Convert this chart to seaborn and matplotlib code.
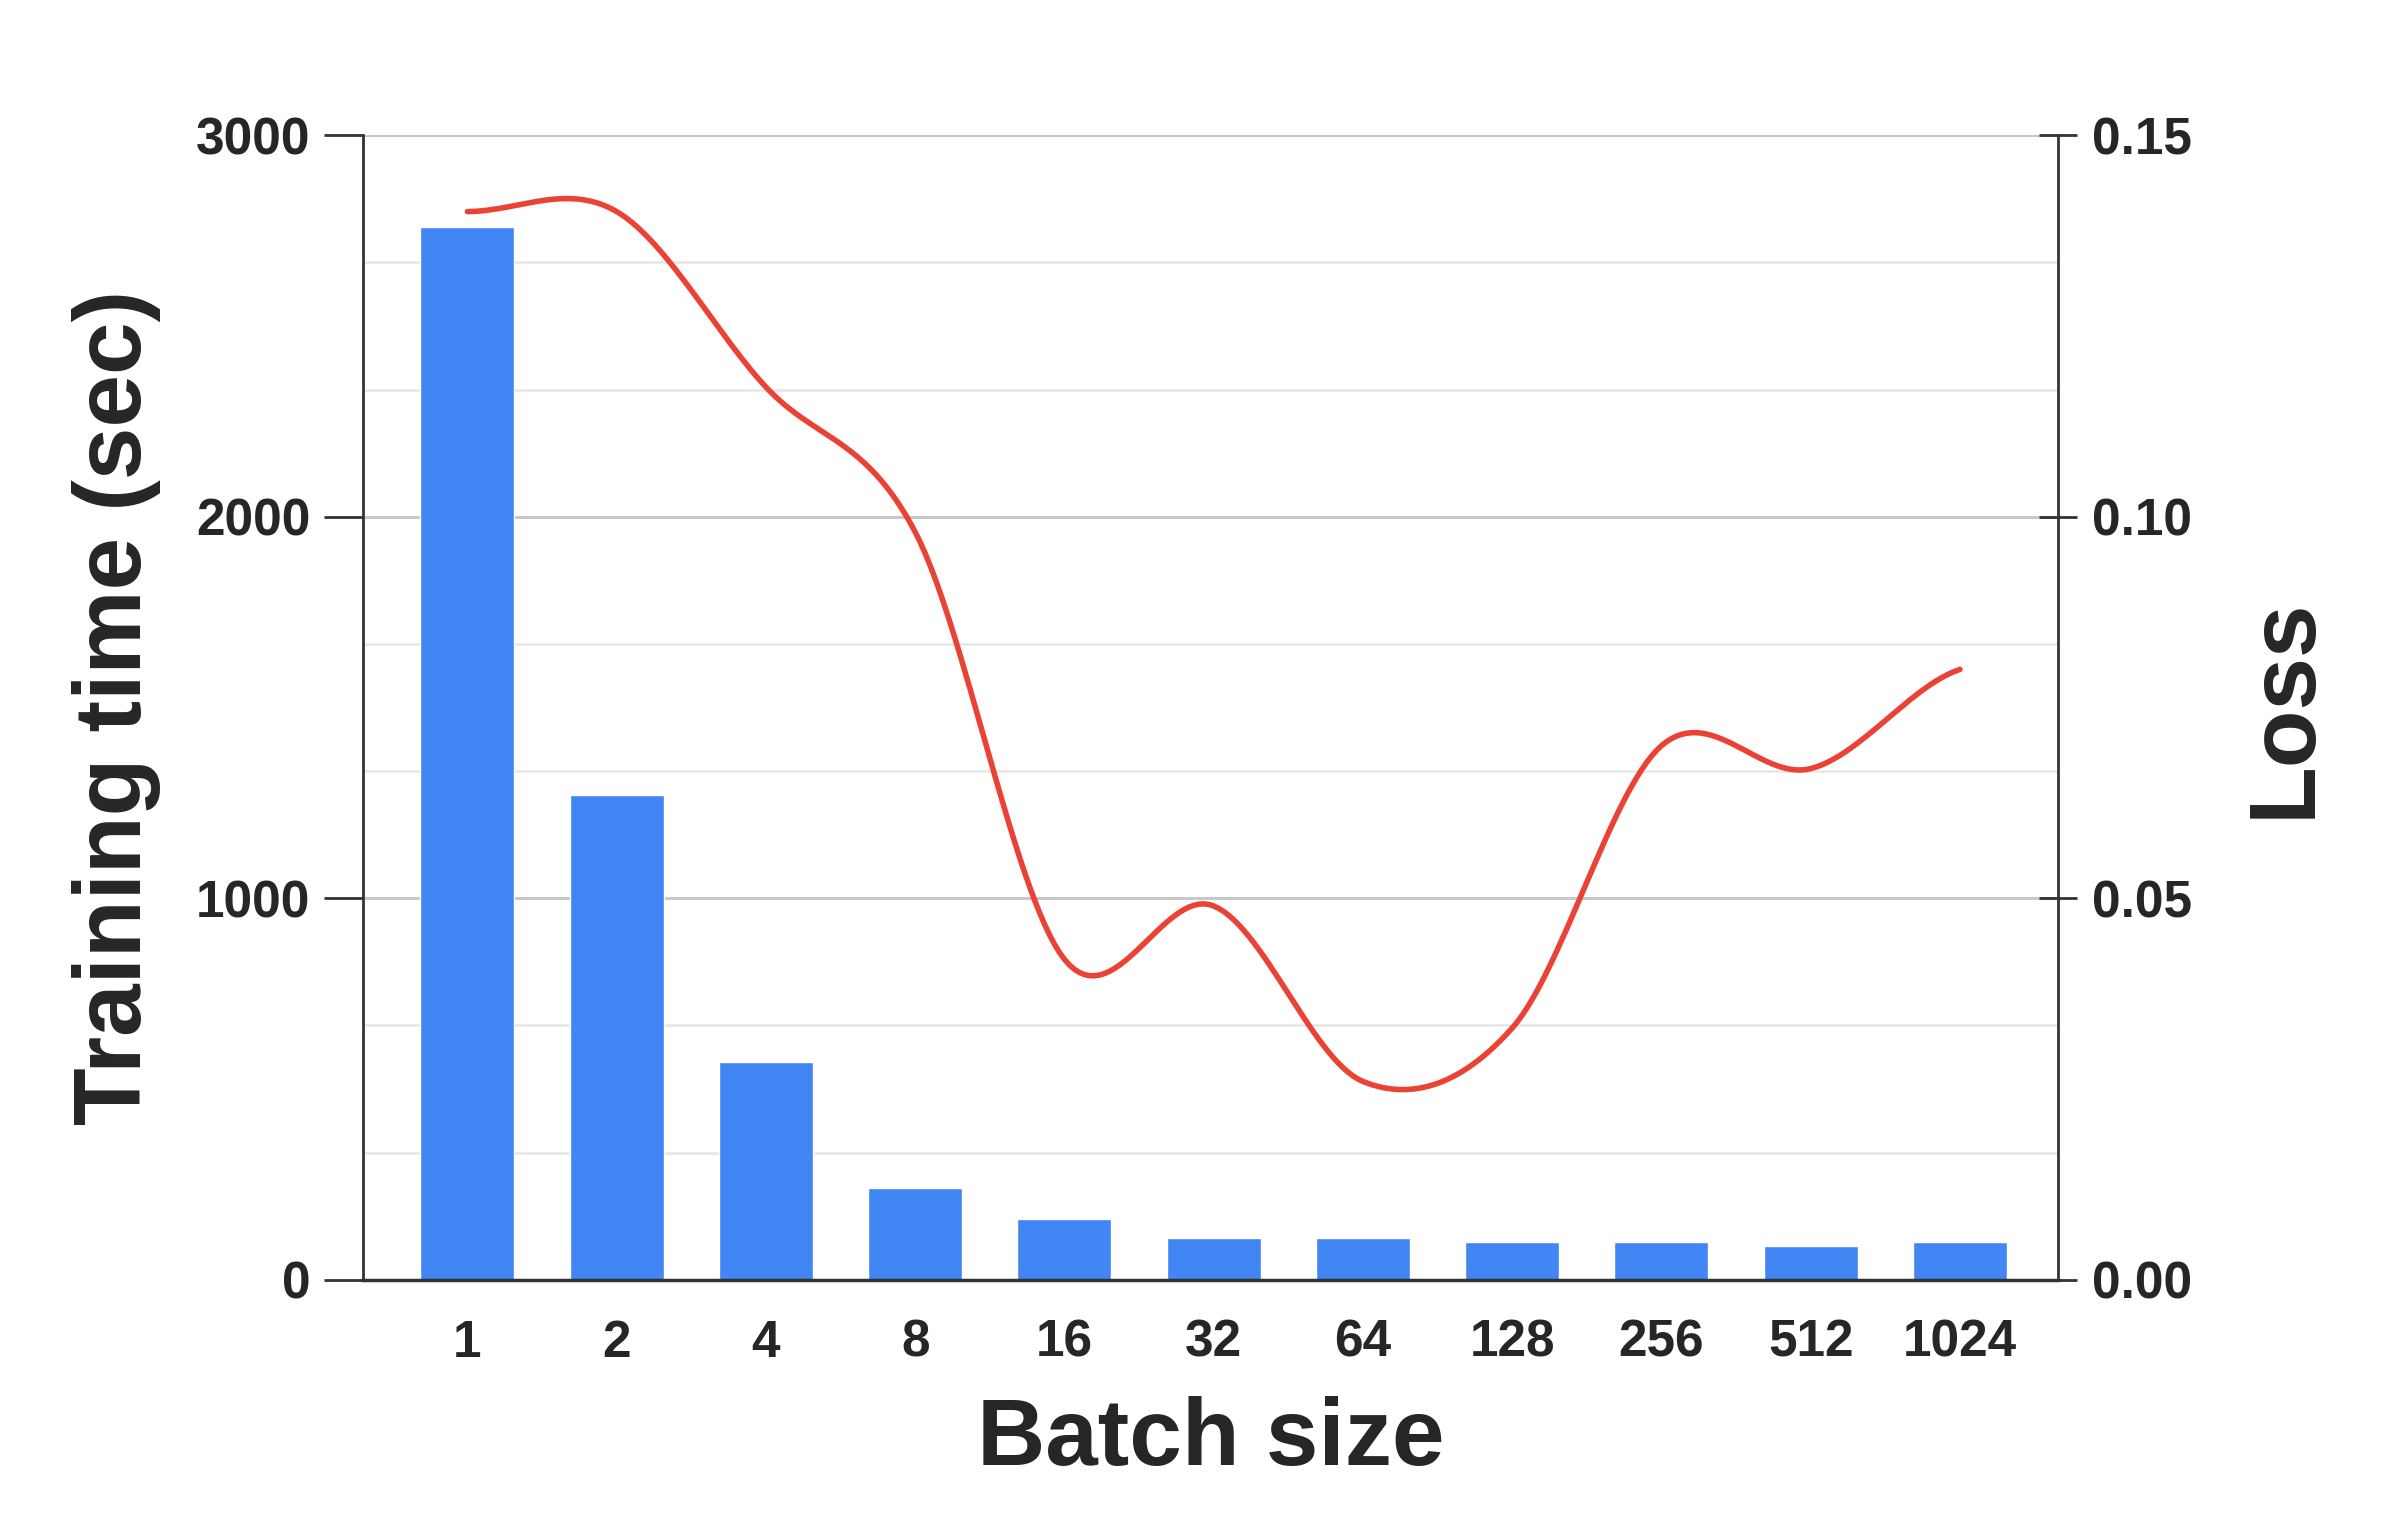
import numpy as np
import pandas as pd
import matplotlib
matplotlib.use("Agg")
import matplotlib.pyplot as plt
import seaborn as sns

batch_sizes = ["1", "2", "4", "8", "16", "32", "64", "128", "256", "512", "1024"]
train_time = [2760, 1270, 570, 240, 160, 110, 110, 100, 100, 90, 100]
loss = [0.140, 0.140, 0.117, 0.098, 0.042, 0.049, 0.026, 0.033, 0.070, 0.067, 0.080]


def smooth(xs, ys, n=30):
    # catmull-rom spline, only used to draw the smoothed line
    xs = np.asarray(xs, float)
    ys = np.asarray(ys, float)
    px = np.concatenate([[2 * xs[0] - xs[1]], xs, [2 * xs[-1] - xs[-2]]])
    py = np.concatenate([[ys[0]], ys, [ys[-1]]])
    ox, oy = [], []
    for i in range(1, len(px) - 2):
        t = np.linspace(0, 1, n, endpoint=False)
        for p, out in ((px, ox), (py, oy)):
            p0, p1, p2, p3 = p[i - 1], p[i], p[i + 1], p[i + 2]
            out.extend(0.5 * (2 * p1 + (-p0 + p2) * t
                              + (2 * p0 - 5 * p1 + 4 * p2 - p3) * t ** 2
                              + (-p0 + 3 * p1 - 3 * p2 + p3) * t ** 3))
    ox.append(xs[-1])
    oy.append(ys[-1])
    return np.array(ox), np.array(oy)


sns.set_style("white")
plt.rcParams['font.family'] = ['Liberation Sans', 'DejaVu Sans']
plt.rcParams['font.weight'] = 'bold'

df = pd.DataFrame({"batch": batch_sizes, "time": train_time})

fig = plt.figure(figsize=(23.88, 15.2), dpi=100)
ax = fig.add_axes([0.152, 0.158, 0.71, 0.753])

for v in np.arange(0, 3001, 1000 / 3):
    major = abs(v / 1000 - round(v / 1000)) < 1e-6
    ax.axhline(v, color="#c8c8c8" if major else "#e6e6e6", lw=2.2 if major else 1.8, zorder=0)

sns.barplot(data=df, x="batch", y="time", order=batch_sizes, color="#4285F4",
            width=0.63, saturation=1, ax=ax, zorder=2)
ax.set_ylim(0, 3000)
ax.set_xlim(-0.7, 10.66)
ax.set_yticks([0, 1000, 2000, 3000])
ax.set_xlabel("Batch size", fontsize=68, fontweight="bold", labelpad=20)
ax.set_ylabel("Training time (sec)", fontsize=68, fontweight="bold", labelpad=25)
ax.tick_params(axis="y", labelsize=37, length=28, width=2, color="#333333", pad=10)
ax.tick_params(axis="x", labelsize=37, length=0, pad=28)
for s in ["top", "right"]:
    ax.spines[s].set_visible(False)
ax.spines["left"].set_color("#333333")
ax.spines["left"].set_linewidth(2)
ax.spines["bottom"].set_color("#333333")
ax.spines["bottom"].set_linewidth(2.5)

ax2 = ax.twinx()
sx, sy = smooth(range(len(loss)), loss)
ax2.plot(sx, sy, color="#EA4335", lw=4, zorder=3)
ax2.set_ylim(0, 0.15)
ax2.set_yticks([0, 0.05, 0.10, 0.15])
ax2.set_yticklabels(["0.00", "0.05", "0.10", "0.15"])
ax2.set_ylabel("Loss", fontsize=68, fontweight="bold", labelpad=35)
ax2.tick_params(axis="y", labelsize=37, length=28, width=2, color="#333333", direction="inout", pad=10)
for s in ["top", "left", "bottom"]:
    ax2.spines[s].set_visible(False)
ax2.spines["right"].set_color("#333333")
ax2.spines["right"].set_linewidth(2)

fig.savefig("out.png", dpi=100)
